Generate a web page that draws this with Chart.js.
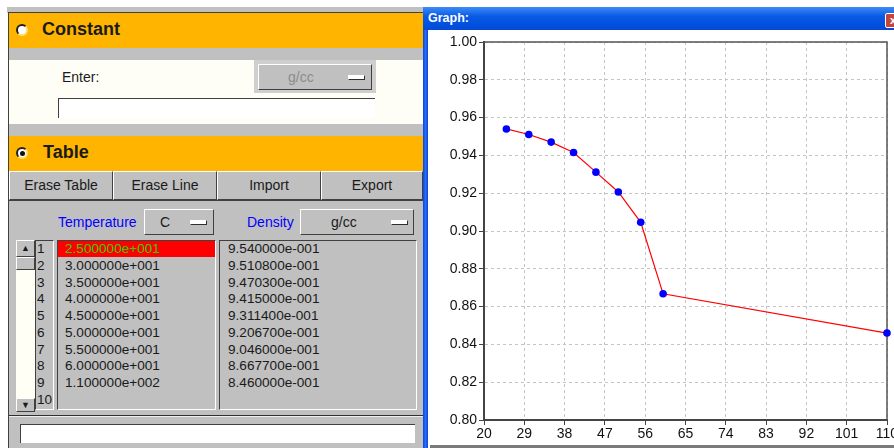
<!DOCTYPE html>
<html lang="en">
<head>
    <meta charset="UTF-8">
    <title>Density - Table / Graph</title>
    <script src="https://cdn.jsdelivr.net/npm/chart.js"></script>
    <style>
        body { margin: 0; width: 894px; height: 448px; overflow: hidden; background: #fff; position: relative;
               font-family: "Liberation Sans", Arial, sans-serif; font-size: 14px; color: #1a1a1a; }
        .a { position: absolute; box-sizing: border-box; }
        .gray { background: #c0c0c0; }
        .orange { background: #ffb400; }
        .raised { background: #c0c0c0; border-top: 1px solid #fff; border-left: 1px solid #fff;
                  border-right: 1px solid #404040; border-bottom: 1px solid #404040; }
        .sunken { border-top: 1px solid #404040; border-left: 1px solid #404040;
                  border-right: 1px solid #fff; border-bottom: 1px solid #fff; }
        .dash { width: 17px; height: 5px; background: #fff; border: 1px solid #303030; border-top-color: #fff; border-left-color: #fff; }
        .radio { width: 12px; height: 12px; border-radius: 50%; background: #fff;
                 border: 2px solid #222; border-right-color: #ffe070; border-bottom-color: #ffe070; }
        .hdr { font-weight: bold; font-size: 18px; }
        .btn { text-align: center; line-height: 27px; font-size: 14px; }
        .row { position: absolute; font-size: 13.6px; line-height: 16px; white-space: nowrap; }
    </style>
</head>
<body>
    <!-- left panel -->
    <div class="a gray" style="left:7px;top:7px;width:416px;height:6px"></div>
    <div class="a" style="left:8px;top:12px;width:415px;height:1px;background:#404040"></div>
    <div class="a" style="left:8px;top:12px;width:1px;height:436px;background:#404040"></div>

    <div class="a orange" style="left:9px;top:13px;width:414px;height:35px"></div>
    <div class="a radio" style="left:16px;top:24px"></div>
    <div class="a hdr" style="left:42px;top:19px">Constant</div>
    <div class="a gray" style="left:9px;top:48px;width:414px;height:12px"></div>
    <div class="a" style="left:9px;top:60px;width:414px;height:64px;background:#fefef6"></div>
    <div class="a" style="left:62px;top:69px">Enter:</div>
    <div class="a" style="left:254px;top:60px;width:122px;height:33px;background:#cfcfcf"></div>
    <div class="a raised" style="left:258px;top:64px;width:114px;height:26px"></div>
    <div class="a" style="left:288px;top:69px;color:#8c8c8c">g/cc</div>
    <div class="a dash" style="left:348px;top:75px"></div>
    <div class="a" style="left:58px;top:98px;width:317px;height:20px;background:#fff;border-top:1px solid #404040;border-left:1px solid #404040"></div>
    <div class="a gray" style="left:9px;top:124px;width:414px;height:12px"></div>

    <div class="a orange" style="left:9px;top:136px;width:414px;height:35px"></div>
    <div class="a radio" style="left:16px;top:147px"></div>
    <div class="a" style="left:20px;top:151px;width:5px;height:5px;border-radius:50%;background:#111"></div>
    <div class="a hdr" style="left:43px;top:142px">Table</div>

    <div class="a raised btn" style="left:9px;top:171px;width:104px;height:29px">Erase Table</div>
    <div class="a raised btn" style="left:113px;top:171px;width:104px;height:29px">Erase Line</div>
    <div class="a raised btn" style="left:217px;top:171px;width:104px;height:29px">Import</div>
    <div class="a raised btn" style="left:321px;top:171px;width:102px;height:29px">Export</div>

    <div class="a gray" style="left:9px;top:200px;width:414px;height:248px;border-top:1px solid #404040"></div>
    <div class="a" style="left:58px;top:214px;color:#0000ff">Temperature</div>
    <div class="a raised" style="left:144px;top:209px;width:70px;height:26px"></div>
    <div class="a" style="left:160px;top:214px">C</div>
    <div class="a dash" style="left:190px;top:220px"></div>
    <div class="a" style="left:247px;top:214px;color:#0000ff">Density</div>
    <div class="a raised" style="left:300px;top:209px;width:114px;height:26px"></div>
    <div class="a" style="left:331px;top:214px">g/cc</div>
    <div class="a dash" style="left:391px;top:220px"></div>

    <!-- scroll bar + columns -->
    <div class="a" style="left:16px;top:240px;width:19px;height:172px;background:#fffff6"></div>
    <div class="a raised" style="left:16px;top:240px;width:19px;height:17px;font-size:9px;text-align:center;line-height:14px">&#9650;</div>
    <div class="a raised" style="left:16px;top:257px;width:19px;height:13px"></div>
    <div class="a raised" style="left:16px;top:398px;width:19px;height:14px;font-size:9px;text-align:center;line-height:12px">&#9660;</div>
    <div class="a sunken" style="left:35px;top:240px;width:19px;height:170px"></div>
    <div class="a sunken" style="left:57px;top:240px;width:159px;height:170px"></div>
    <div class="a sunken" style="left:219px;top:240px;width:198px;height:170px"></div>

    <div class="a" style="left:9px;top:415px;width:414px;height:1px;background:#303030"></div>
    <div class="a" style="left:9px;top:416px;width:414px;height:1px;background:#eee"></div>
    <div class="a" style="left:20px;top:424px;width:395px;height:19px;background:#fff;border-top:1px solid #404040;border-left:1px solid #404040"></div>

    <!-- graph window -->
    <div class="a" style="left:423px;top:7px;width:471px;height:23px;background:linear-gradient(#3d8cf7,#0a5ae6 40%,#0050e0 80%,#0a48d0)"></div>
    <div class="a" style="left:428px;top:11px;color:#fff;font-weight:bold;font-size:12.5px">Graph:</div>
    <div class="a" style="left:885px;top:13px;width:16px;height:15px;background:#c4453b;border:1px solid #fff;border-radius:2px;color:#fff;font-size:11px;font-weight:bold;line-height:13px;text-align:center">x</div>
    <div class="a" style="left:423px;top:30px;width:5px;height:418px;background:linear-gradient(90deg,#0a46d8,#2a6cf4,#0a46d8)"></div>
    <div class="a" style="left:430px;top:445px;width:464px;height:3px;background:#7a7a7a"></div>
    <div class="a" style="left:428px;top:30px;width:466px;height:415px;overflow:hidden;background:#fff">
        <canvas id="graph" width="500" height="415"></canvas>
    </div>

    <script>
        // table / graph data
        const temperature = [25, 30, 35, 40, 45, 50, 55, 60, 110];
        const density = [0.954, 0.95108, 0.94703, 0.9415, 0.93114, 0.92067, 0.9046, 0.86677, 0.846];
        const rowCount = 10;
        const xRange = [20, 110], xStep = 9;
        const yRange = [0.80, 1.00], yStep = 0.02;

        // 2.500000e+001 style
        function fmt(v) {
            const parts = v.toExponential(6).split('e');
            const sign = parts[1][0];
            const exp = parts[1].slice(1).padStart(3, '0');
            return parts[0] + 'e' + sign + exp;
        }

        // fill the table columns
        const rowTop = 241, rowStep = 16.75;
        for (let i = 0; i < rowCount; i++) {
            const y = rowTop + i * rowStep;
            const n = document.createElement('div');
            n.className = 'row';
            n.style.left = '37px'; n.style.top = y + 'px';
            n.textContent = i + 1;
            document.body.appendChild(n);
            if (i < temperature.length) {
                const t = document.createElement('div');
                t.className = 'row';
                t.style.left = '65px'; t.style.top = y + 'px';
                t.textContent = fmt(temperature[i]);
                if (i === 0) {
                    t.style.left = '58px'; t.style.width = '157px'; t.style.paddingLeft = '7px';
                    t.style.background = '#ff0000'; t.style.color = '#33cc00';
                    t.style.boxSizing = 'border-box';
                }
                document.body.appendChild(t);
                const d = document.createElement('div');
                d.className = 'row';
                d.style.left = '228px'; d.style.top = y + 'px';
                d.textContent = fmt(density[i]);
                document.body.appendChild(d);
            }
        }

        // frame on top and right of plot
        const framePlugin = {
            id: 'frame',
            beforeDatasetsDraw(chart) {
                const { ctx, chartArea: a } = chart;
                ctx.save();
                ctx.strokeStyle = '#555';
                ctx.lineWidth = 1.5;
                ctx.beginPath();
                ctx.moveTo(a.left, a.top);
                ctx.lineTo(a.right, a.top);
                ctx.lineTo(a.right, a.bottom);
                ctx.stroke();
                ctx.restore();
            }
        };

        const tickFont = { family: 'Liberation Sans', size: 14 };
        const points = temperature.map((t, i) => ({ x: t, y: density[i] }));

        new Chart(document.getElementById('graph'), {
            type: 'scatter',
            data: {
                datasets: [{
                    data: points,
                    showLine: true,
                    borderColor: '#ff0000',
                    borderWidth: 1.2,
                    tension: 0,
                    pointBackgroundColor: '#0000ff',
                    pointBorderColor: '#0000ff',
                    pointBorderWidth: 0,
                    pointRadius: 3.8,
                    clip: false
                }]
            },
            options: {
                responsive: false,
                animation: false,
                layout: { padding: { top: 12, right: 41, bottom: 0, left: 0 } },
                plugins: { legend: { display: false }, tooltip: { enabled: false } },
                scales: {
                    x: {
                        type: 'linear',
                        min: xRange[0], max: xRange[1],
                        ticks: { stepSize: xStep, color: '#111', font: tickFont, padding: 1, maxRotation: 0, autoSkip: false },
                        grid: { color: '#c4c4c4', tickColor: '#444', tickLength: 5, tickBorderDash: [] },
                        border: { color: '#444', width: 2, dash: [3, 3] },
                        afterFit(s) { s.height = 25; }
                    },
                    y: {
                        min: yRange[0], max: yRange[1],
                        ticks: { stepSize: yStep, color: '#111', font: tickFont, padding: 2,
                                 callback: v => v.toFixed(2) },
                        grid: { color: '#c4c4c4', tickColor: '#444', tickLength: 5, tickBorderDash: [] },
                        border: { color: '#444', width: 2, dash: [3, 3] },
                        afterFit(s) { s.width = 56; }
                    }
                }
            },
            plugins: [framePlugin]
        });
    </script>
</body>
</html>
